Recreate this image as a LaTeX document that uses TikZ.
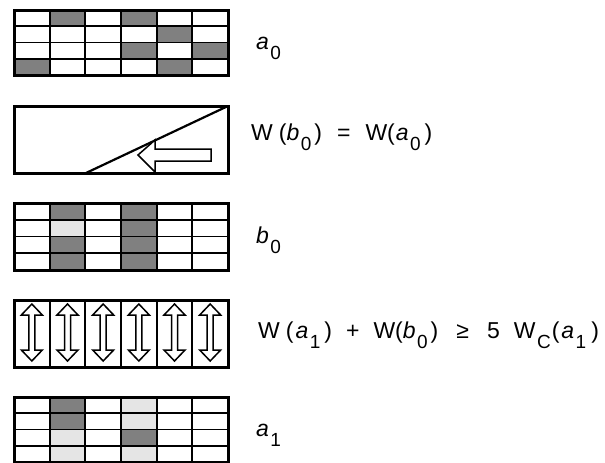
\documentclass[tikz,border=0pt]{standalone}
\usepackage{fontspec}
\setmainfont{Liberation Sans}
\usetikzlibrary{positioning}

% lowered subscript as in the figure
\newcommand{\lsub}[1]{\hspace{1.5pt}\raisebox{-10pt}{\fontsize{19}{19}\selectfont #1}}
\newcommand{\gap}[1]{\hspace{#1pt}}

\begin{document}
\begin{tikzpicture}[
    x=1pt, y=-1pt,
    cellgrid/.style={draw, line width=1.8pt},
    frame/.style={draw, line width=3pt},
    dark/.style={fill=black!50},
    light/.style={fill=black!10},
    hollow/.style={draw, line width=1.5pt, fill=white, line join=miter},
    label/.style={font=\fontsize{23}{25}\selectfont, anchor=base west, inner sep=0pt}
]
    \useasboundingbox (0,0) rectangle (605,463);
    \def\cw{35.67}

    % grid a_0
    \foreach \c/\r in {1/0,3/0,4/1,3/2,5/2,0/3,4/3}
        \fill[dark] (14+\c*\cw, 10+\r*16.25) rectangle ++(\cw,16.25);
    \foreach \c in {1,...,5}
        \draw[cellgrid] (14+\c*\cw,10) -- (14+\c*\cw,75);
    \foreach \r in {1,2,3}
        \draw[cellgrid] (14,10+\r*16.25) -- (228,10+\r*16.25);
    \draw[frame] (14,10) rectangle (228,75);
    \node[label] (la0) at (256,49) {\textit{a}\lsub{0}};

    % shifted block with arrow
    \draw[frame] (14,106) rectangle (228,173);
    \draw[line width=2.2pt] (228,106) -- (86,173);
    \draw[hollow] (138,155) -- (155,140) -- (155,149) -- (211,149)
        -- (211,161) -- (155,161) -- (155,172) -- cycle;
    \node[label] (lw) at (251,140)
        {W\gap{6}(\textit{b}\lsub{0}\gap{3})\gap{15}=\gap{15}W(\gap{1}\textit{a}\lsub{0}\gap{4})};

    % grid b_0
    \fill[light] (14+\cw, 203+16.75) rectangle ++(\cw,16.75);
    \foreach \c/\r in {1/0,1/2,1/3,3/0,3/1,3/2,3/3}
        \fill[dark] (14+\c*\cw, 203+\r*16.75) rectangle ++(\cw,16.75);
    \foreach \c in {1,...,5}
        \draw[cellgrid] (14+\c*\cw,203) -- (14+\c*\cw,270);
    \foreach \r in {1,2,3}
        \draw[cellgrid] (14,203+\r*16.75) -- (228,203+\r*16.75);
    \draw[frame] (14,203) rectangle (228,270);
    \node[label] (lb0) at (256,243) {\textit{b}\lsub{0}};

    % double arrows
    \foreach \c in {0,...,5} {
        \pgfmathsetmacro{\cx}{14+(\c+0.5)*\cw}
        \draw[hollow] (\cx,304) -- (\cx+10.5,315) -- (\cx+3,315) -- (\cx+3,350)
            -- (\cx+10.5,350) -- (\cx,361) -- (\cx-10.5,350) -- (\cx-3,350)
            -- (\cx-3,315) -- (\cx-10.5,315) -- cycle;
    }
    \foreach \c in {1,...,5}
        \draw[cellgrid] (14+\c*\cw,300) -- (14+\c*\cw,367);
    \draw[frame] (14,300) rectangle (228,367);
    \node[label] (lineq) at (258,338)
        {W\gap{6}(\gap{2}\textit{a}\lsub{1}\gap{4})\gap{14}+\gap{14}W(\textit{b}\lsub{0}\gap{3})\gap{18}≥\gap{18}5\gap{14}W\lsub{C}\gap{1}(\gap{2}\textit{a}\lsub{1}\gap{5})};

    % grid a_1
    \foreach \c/\r in {1/2,1/3,3/0,3/1,3/3}
        \fill[light] (14+\c*\cw, 397+\r*16.25) rectangle ++(\cw,16.25);
    \foreach \c/\r in {1/0,1/1,3/2}
        \fill[dark] (14+\c*\cw, 397+\r*16.25) rectangle ++(\cw,16.25);
    \foreach \c in {1,...,5}
        \draw[cellgrid] (14+\c*\cw,397) -- (14+\c*\cw,462);
    \foreach \r in {1,2,3}
        \draw[cellgrid] (14,397+\r*16.25) -- (228,397+\r*16.25);
    \draw[frame] (14,397) rectangle (228,462);
    \node[label] (la1) at (256,436) {\textit{a}\lsub{1}};
\end{tikzpicture}
\end{document}
